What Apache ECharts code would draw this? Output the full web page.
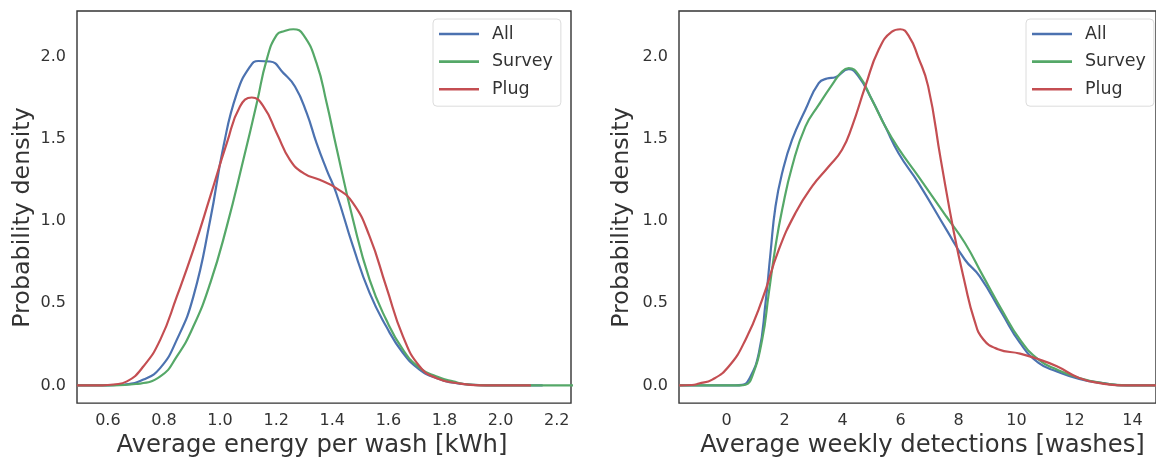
<!DOCTYPE html>
<html>
<head>
<meta charset="utf-8">
<title>Probability density: energy per wash and weekly detections</title>
<script src="https://cdn.jsdelivr.net/npm/echarts@6/dist/echarts.min.js"></script>
<style>
  html, body { margin: 0; padding: 0; background: #ffffff; }
  #chart { width: 1156px; height: 463px; }
</style>
</head>
<body>
<div id="chart"></div>
<script>
// Kernel density estimates, sampled as [x, density] pairs.

// Left panel: average energy per wash [kWh]
const energyAll = [
  [0.49, 0], [0.60, 0], [0.66, 0.005], [0.727, 0.035], [0.787, 0.106], [0.846, 0.278],
  [0.905, 0.541], [0.965, 1.007], [1.012, 1.453], [1.06, 1.777], [1.107, 1.939],
  [1.137, 1.973], [1.178, 1.97], [1.226, 1.899], [1.267, 1.818], [1.309, 1.656],
  [1.344, 1.473], [1.38, 1.311], [1.414, 1.17], [1.474, 0.845], [1.533, 0.562],
  [1.592, 0.359], [1.652, 0.197], [1.711, 0.096], [1.77, 0.045], [1.853, 0.011],
  [1.95, 0], [2.15, 0]
];
const energySurvey = [
  [0.49, 0], [0.62, 0], [0.70, 0.008], [0.787, 0.055], [0.846, 0.176], [0.905, 0.359],
  [0.965, 0.622], [1.024, 0.967], [1.083, 1.372], [1.131, 1.717], [1.166, 1.98],
  [1.202, 2.132], [1.23, 2.155], [1.261, 2.166], [1.297, 2.132], [1.344, 1.96],
  [1.38, 1.717], [1.414, 1.453], [1.474, 1.007], [1.533, 0.643], [1.592, 0.40],
  [1.652, 0.217], [1.711, 0.106], [1.77, 0.055], [1.83, 0.024], [1.889, 0.004],
  [1.95, 0], [2.26, 0]
];
const energyPlug = [
  [0.49, 0], [0.58, 0], [0.62, 0.005], [0.668, 0.024], [0.727, 0.116], [0.787, 0.278],
  [0.846, 0.541], [0.905, 0.825], [0.965, 1.149], [1.024, 1.473], [1.071, 1.696],
  [1.113, 1.751], [1.155, 1.696], [1.202, 1.534], [1.249, 1.372], [1.297, 1.291],
  [1.355, 1.25], [1.414, 1.2], [1.474, 1.109], [1.533, 0.906], [1.592, 0.602],
  [1.652, 0.298], [1.711, 0.116], [1.77, 0.045], [1.853, 0.011], [1.93, 0], [2.108, 0]
];

// Right panel: average weekly detections [washes]
const washesAll = [
  [-1.64, 0], [0.3, 0], [0.538, 0.003], [0.768, 0.035], [1.112, 0.197], [1.341, 0.5],
  [1.514, 0.805], [1.686, 1.088], [1.915, 1.291], [2.259, 1.494], [2.717, 1.676],
  [3.177, 1.838], [3.464, 1.866], [3.751, 1.874], [4.21, 1.923], [4.554, 1.878],
  [5.013, 1.737], [5.472, 1.574], [5.931, 1.412], [6.62, 1.23], [7.58, 0.947],
  [8.22, 0.764], [8.73, 0.663], [9.49, 0.44], [10.12, 0.258], [10.76, 0.136],
  [11.39, 0.085], [12.16, 0.039], [12.92, 0.015], [13.8, 0], [14.85, 0]
];
const washesSurvey = [
  [-1.64, 0], [0.45, 0], [0.653, 0.004], [0.882, 0.055], [1.227, 0.278], [1.456, 0.562],
  [1.686, 0.845], [1.915, 1.068], [2.259, 1.331], [2.717, 1.574], [3.177, 1.706],
  [3.636, 1.828], [3.981, 1.909], [4.21, 1.929], [4.554, 1.889], [5.013, 1.737],
  [5.472, 1.574], [5.931, 1.44], [6.62, 1.27], [7.58, 1.027], [8.22, 0.866],
  [8.85, 0.663], [9.49, 0.46], [10.12, 0.278], [10.76, 0.156], [11.39, 0.096],
  [12.16, 0.045], [12.92, 0.015], [13.8, 0], [14.85, 0]
];
const washesPlug = [
  [-1.64, 0], [-1.2, 0.002], [-0.954, 0.011], [-0.494, 0.035], [0.079, 0.116],
  [0.653, 0.278], [1.227, 0.521], [1.8, 0.825], [2.374, 1.048], [2.948, 1.21],
  [3.522, 1.331], [3.981, 1.433], [4.325, 1.574], [4.784, 1.818], [5.243, 2.041],
  [5.702, 2.152], [5.99, 2.166], [6.3, 2.12], [6.6, 2.0], [6.95, 1.82], [7.39, 1.37],
  [7.84, 0.93], [8.22, 0.62], [8.54, 0.40], [8.85, 0.28], [9.36, 0.22], [10.12, 0.193],
  [10.63, 0.166], [11.39, 0.116], [12.16, 0.045], [12.92, 0.012], [13.6, 0], [14.85, 0]
];

// Tick labels
const energyTicks = [0.6, 0.8, 1.0, 1.2, 1.4, 1.6, 1.8, 2.0, 2.2];
const washesTicks = [0, 2, 4, 6, 8, 10, 12, 14];
const densityTicks = [0.0, 0.5, 1.0, 1.5, 2.0];

const seriesNames = ['All', 'Survey', 'Plug'];
const palette = ['#4C72B0', '#55A868', '#C44E52'];

const FONT = 'DejaVu Sans';
const INK = '#333333';

function xAxisFor(gridIndex, min, max, ticks, digits, title, titlePad) {
  return {
    type: 'value', gridIndex, min, max,
    axisLine: { show: false }, axisTick: { show: false }, splitLine: { show: false },
    axisLabel: {
      customValues: ticks, margin: 10, color: INK, fontFamily: FONT, fontSize: 16,
      formatter: v => v.toFixed(digits)
    },
    name: title, nameLocation: 'middle', nameGap: 27,
    nameTextStyle: { color: INK, fontFamily: FONT, fontSize: 24.3, padding: titlePad }
  };
}

function yAxisFor(gridIndex, gap) {
  return {
    type: 'value', gridIndex, min: -0.108, max: 2.277,
    axisLine: { show: false }, axisTick: { show: false }, splitLine: { show: false },
    axisLabel: {
      customValues: densityTicks, margin: 11, color: INK, fontFamily: FONT, fontSize: 16,
      formatter: v => v.toFixed(1)
    },
    name: 'Probability density', nameLocation: 'middle', nameGap: gap,
    nameTextStyle: { color: INK, fontFamily: FONT, fontSize: 23.8, padding: [0, 21, 0, 0] }
  };
}

function lineSeries(name, data, idx, axisIdx) {
  return {
    name, type: 'line', data, xAxisIndex: axisIdx, yAxisIndex: axisIdx,
    showSymbol: false, symbol: 'none', smooth: 0.5,
    lineStyle: { color: palette[idx], width: 2.2 }, itemStyle: { color: palette[idx] },
    z: 2 + idx, silent: true
  };
}

function legendAt(left) {
  return {
    data: seriesNames, orient: 'vertical', left, top: 19,
    icon: 'rect', itemWidth: 40, itemHeight: 2.6, itemGap: 9.6,
    padding: [6, 8, 8, 6],
    backgroundColor: '#ffffff', borderColor: '#dcdcdc', borderWidth: 1, borderRadius: 4,
    textStyle: { color: INK, fontFamily: FONT, fontSize: 17.5, lineHeight: 18, padding: [0, 0, 0, 8] },
    selectedMode: false
  };
}

const chart = echarts.init(document.getElementById('chart'), null, { renderer: 'canvas' });
chart.setOption({
  backgroundColor: '#ffffff',
  animation: false,
  grid: [
    { left: 77, top: 11, width: 494, height: 393, show: true, borderColor: '#333333', borderWidth: 1.4, backgroundColor: 'transparent' },
    { left: 679, top: 11, width: 478, height: 393, show: true, borderColor: '#333333', borderWidth: 1.4, backgroundColor: 'transparent' }
  ],
  xAxis: [
    xAxisFor(0, 0.49, 2.251, energyTicks, 1, 'Average energy per wash [kWh]', [0, 24, 0, 0]),
    xAxisFor(1, -1.642, 14.81, washesTicks, 0, 'Average weekly detections [washes]', [0, 0, 0, 10])
  ],
  yAxis: [yAxisFor(0, 42), yAxisFor(1, 45)],
  legend: [legendAt(433), legendAt(1026)],
  series: [
    lineSeries('All', energyAll, 0, 0),
    lineSeries('Survey', energySurvey, 1, 0),
    lineSeries('Plug', energyPlug, 2, 0),
    lineSeries('All', washesAll, 0, 1),
    lineSeries('Survey', washesSurvey, 1, 1),
    lineSeries('Plug', washesPlug, 2, 1)
  ]
});
</script>
</body>
</html>
